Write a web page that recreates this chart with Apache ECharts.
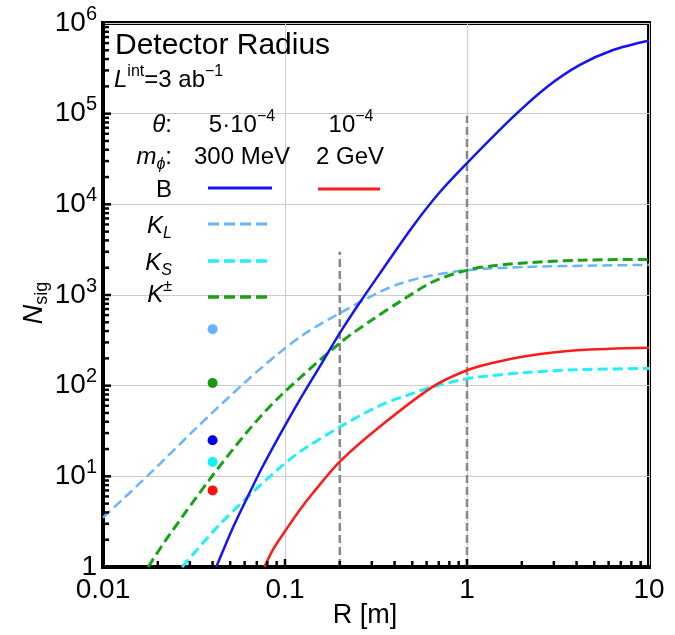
<!DOCTYPE html>
<html><head><meta charset="utf-8">
<script src="https://cdn.jsdelivr.net/npm/echarts@6/dist/echarts.min.js"></script>
<style>html,body{margin:0;padding:0;background:#fff}#c{width:675px;height:635px}</style>
</head><body><div id="c"></div>
<script>
// ---- axes ----
const xTicks = [0.01, 0.1, 1, 10];
const xTickLabels = ['0.01', '0.1', '1', '10'];
const yTicks = [1, 10, 100, 1000, 10000, 100000, 1000000];
const yTickExp = ['', '1', '2', '3', '4', '5', '6'];
const xMinorTicks = [0.02,0.03,0.04,0.05,0.06,0.07,0.08,0.09,0.2,0.3,0.4,0.5,0.6,0.7,0.8,0.9,2,3,4,5,6,7,8,9];
const yMinorTicks = [2,3,4,5,6,7,8,9,20,30,40,50,60,70,80,90,200,300,400,500,600,700,800,900,
  2000,3000,4000,5000,6000,7000,8000,9000,20000,30000,40000,50000,60000,70000,80000,90000,
  200000,300000,400000,500000,600000,700000,800000,900000];

// ---- curves: B (300 MeV, theta 5e-4) ----
const bX = [0.0419,0.052,0.0622,0.075,0.093,0.12,0.16,0.2,0.256,0.33,0.5,0.706,1,1.78,2.74,4.17,6.3,10];
const bY = [1,2.78,5.9,12.6,28,69,180,380,810,1700,5600,13500,28500,91000,196000,345000,500000,640000];
// B (2 GeV, theta 1e-4)
const b2X = [0.0769,0.085,0.093,0.12,0.142,0.2,0.33,0.647,1,1.38,2.13,4.0,10];
const b2Y = [1,1.5,2.0,4.2,6.5,14.5,35,97,148,178,213,246,262];
// K_L
const klX = [0.01,0.0179,0.0325,0.0612,0.093,0.13,0.2,0.33,0.426,0.6,1,2.13,5,10];
const klY = [3.5,10.5,34,112,230,380,630,1075,1330,1600,1880,2040,2110,2150];
// K_S
const ksX = [0.0272,0.042,0.0622,0.093,0.12,0.2,0.33,0.5,0.647,0.91,1.17,2.13,4,10];
const ksY = [1,2.7,5.9,12.3,18.5,35,60,82,97,115,125,140,150,155];
// K±
const kpX = [0.0177,0.0222,0.0383,0.0612,0.093,0.2,0.3,0.426,0.65,1,1.39,2.14,4.17,10];
const kpY = [1,2.0,9.1,30,75,295,530,840,1400,1880,2100,2265,2420,2470];
// dots at R = 0.04
const dotX = 0.04;
const dotY = [420, 107, 25, 14.4, 7.0];
const dotColors = ['#66b2ff', '#139a13', '#0000ee', '#10f0f8', '#ff1010'];
// vertical reference lines
const vLineX = [0.2, 1];
const vLineTop = [3000, 95000];

const FONT = 'Liberation Sans, Arial, sans-serif';
const C_B = '#1414f5', C_R = '#ff1a1a', C_KL = '#68b4ff', C_KS = '#20f0f8', C_KP = '#16a316', C_G = '#888888';

const pairs = (xs, ys) => xs.map((x, i) => [x, ys[i]]);

function lineSeries(xs, ys, color, width, type) {
  return {
    type: 'line', data: pairs(xs, ys), showSymbol: false, smooth: 0.3,
    lineStyle: { color, width, type }, z: 3, silent: true
  };
}

function tickSeries(vals, isX, len) {
  return {
    type: 'custom', silent: true, z: 5,
    data: vals.map(v => isX ? [v, 1] : [0.01, v]),
    renderItem: (params, api) => {
      const p = api.coord([api.value(0), api.value(1)]);
      return {
        type: 'line',
        shape: isX ? { x1: p[0], y1: p[1], x2: p[0], y2: p[1] - len }
                   : { x1: p[0], y1: p[1], x2: p[0] + len, y2: p[1] },
        style: { stroke: '#000', lineWidth: 2.5 }
      };
    }
  };
}

const series = [
  lineSeries(klX, klY, C_KL, 2.5, [10, 5]),
  lineSeries(ksX, ksY, C_KS, 3, [10, 5]),
  lineSeries(kpX, kpY, C_KP, 3, [10, 5]),
  lineSeries(b2X, b2Y, C_R, 2.5, 'solid'),
  lineSeries(bX, bY, C_B, 2.5, 'solid'),
];
vLineX.forEach((x, i) => series.push({
  type: 'line', data: [[x, 1], [x, vLineTop[i]]], showSymbol: false, silent: true,
  lineStyle: { color: C_G, width: 2.5, type: [8, 4] }, z: 2
}));
series.push({
  type: 'scatter', symbolSize: 10, silent: true, z: 4,
  data: dotY.map((y, i) => ({ value: [dotX, y], itemStyle: { color: dotColors[i], opacity: 1 } }))
});
series.push(tickSeries(xMinorTicks, true, 6));
series.push(tickSeries(xTicks.slice(1, -1), true, 8));
series.push(tickSeries(yMinorTicks, false, 6));
series.push(tickSeries(yTicks.slice(1, -1), false, 8));

function txt(text, x, y, size, align, extra) {
  return {
    type: 'text', x, y, silent: true, z: 10,
    style: Object.assign({
      text, fill: '#000', fontSize: size, fontFamily: FONT,
      align: align, textAlign: align, verticalAlign: 'middle', textVerticalAlign: 'middle'
    }, extra || {})
  };
}
const richCommon = (size) => ({
  i: { fontSize: size, fontFamily: FONT, fontStyle: 'italic' },
  s: { fontSize: Math.round(size * 0.68), fontFamily: FONT, verticalAlign: 'top' },
  si: { fontSize: Math.round(size * 0.68), fontFamily: FONT, fontStyle: 'italic', verticalAlign: 'bottom' },
  sb: { fontSize: Math.round(size * 0.68), fontFamily: FONT, verticalAlign: 'bottom' },
  n: { fontSize: size, fontFamily: FONT }
});

function legendLine(x1, x2, y, color, width, dash) {
  return { type: 'line', silent: true, z: 10, shape: { x1, y1: y, x2, y2: y },
    style: { stroke: color, lineWidth: width, lineDash: dash } };
}

const graphics = [
  txt('Detector Radius', 115, 46, 30, 'left'),
  txt('{i|L}{s|int}{n|=3 ab}{s|−1}', 114, 80, 24, 'left', { rich: richCommon(24), lineHeight: 32 }),
  txt('{i|θ}{n|:}', 172, 125, 24, 'right', { rich: richCommon(24), lineHeight: 32 }),
  txt('{i|m}{si|ϕ}{n|:}', 172, 157, 24, 'right', { rich: richCommon(24), lineHeight: 32 }),
  txt('{n|5·10}{s|−4}', 242, 125, 24, 'center', { rich: richCommon(24), lineHeight: 32 }),
  txt('{n|10}{s|−4}', 351, 125, 24, 'center', { rich: richCommon(24), lineHeight: 32 }),
  txt('300 MeV', 242, 157, 24, 'center'),
  txt('2 GeV', 350, 157, 24, 'center'),
  txt('B', 172, 190, 24, 'right'),
  txt('{i|K}{si|L}', 172, 226, 24, 'right', { rich: richCommon(24), lineHeight: 32 }),
  txt('{i|K}{si|S}', 172, 263, 24, 'right', { rich: richCommon(24), lineHeight: 32 }),
  txt('{i|K}{s|±}', 172, 295, 24, 'right', { rich: richCommon(24), lineHeight: 32 }),
  legendLine(208, 272, 188, C_B, 3, null),
  legendLine(318, 380, 189, C_R, 3, null),
  legendLine(208, 270, 224, C_KL, 3, [11, 5]),
  legendLine(208, 270, 261, C_KS, 3.5, [11, 5]),
  legendLine(208, 270, 297, C_KP, 3.5, [11, 5]),
  txt('R [m]', 365, 616, 27, 'center'),
  Object.assign(txt('{i|N}{sb|sig}', 0, 0, 27, 'center', { rich: richCommon(27), lineHeight: 34 }),
    { x: 34, y: 303, rotation: Math.PI / 2 })
];

const chart = echarts.init(document.getElementById('c'), null, { renderer: 'canvas' });
chart.setOption({
  animation: false,
  backgroundColor: '#fff',
  grid: { left: 103, top: 23, right: 26, bottom: 68, show: true, borderColor: '#000', borderWidth: 4, backgroundColor: 'transparent' },
  xAxis: {
    type: 'log', logBase: 10, min: 0.01, max: 10, interval: 1, splitNumber: 3,
    axisLine: { show: true, onZero: false, lineStyle: { color: '#000', width: 4 } },
    axisTick: { show: false },
    splitLine: { show: true, lineStyle: { color: '#cccccc', width: 1 } },
    axisLabel: {
      margin: 9, fontSize: 28, fontFamily: FONT, color: '#000',
      formatter: v => { const e = Math.round(Math.log10(v)); const k = xTicks.findIndex(t => Math.round(Math.log10(t)) === e); return k >= 0 ? xTickLabels[k] : ''; }
    }
  },
  yAxis: {
    type: 'log', logBase: 10, min: 1, max: 1000000, interval: 1, splitNumber: 6,
    axisLine: { show: true, onZero: false, lineStyle: { color: '#000', width: 4 } },
    axisTick: { show: false },
    splitLine: { show: true, lineStyle: { color: '#cccccc', width: 1 } },
    axisLabel: {
      margin: 6, color: '#000',
      formatter: v => { const e = Math.round(Math.log10(v)); const k = yTicks.findIndex(t => Math.round(Math.log10(t)) === e); if (k < 0) return ''; return k === 0 ? '{b|1}' : '{b|10}{s|' + yTickExp[k] + '}'; },
      rich: {
        b: { fontSize: 28, fontFamily: FONT, color: '#000', lineHeight: 38 },
        s: { fontSize: 20, fontFamily: FONT, color: '#000', verticalAlign: 'top' }
      }
    }
  },
  series,
  graphic: graphics
});
</script></body></html>
